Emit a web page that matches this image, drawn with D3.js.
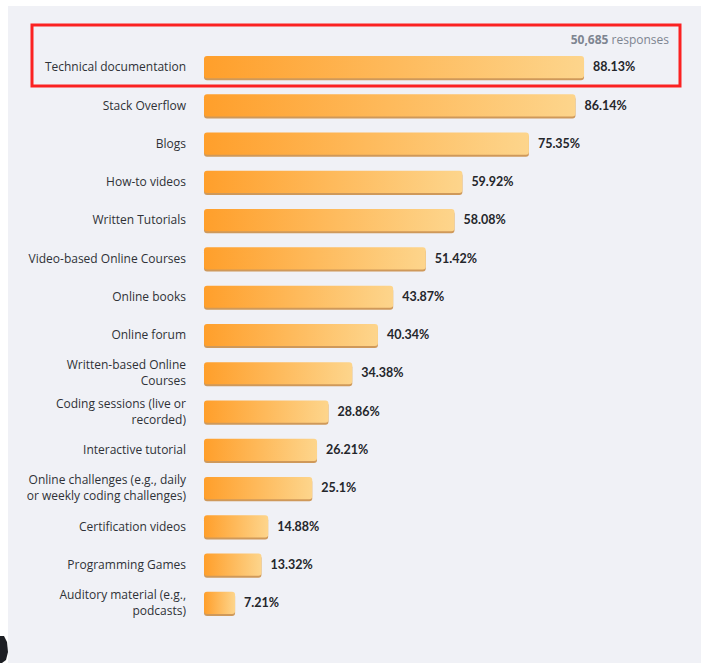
<!DOCTYPE html>
<html>
<head>
<meta charset="utf-8">
<script src="https://cdn.jsdelivr.net/npm/d3@7"></script>
<style>
  html, body { margin: 0; padding: 0; background: #fff; }
  svg { display: block; }
</style>
</head>
<body>
<svg id="chart" width="702" height="663"></svg>
<script>
'use strict';

// ── Data ────────────────────────────────────────────────────────────────────
const categories = [
  ['Technical documentation'],
  ['Stack Overflow'],
  ['Blogs'],
  ['How-to videos'],
  ['Written Tutorials'],
  ['Video-based Online Courses'],
  ['Online books'],
  ['Online forum'],
  ['Written-based Online', 'Courses'],
  ['Coding sessions (live or', 'recorded)'],
  ['Interactive tutorial'],
  ['Online challenges (e.g., daily', 'or weekly coding challenges)'],
  ['Certification videos'],
  ['Programming Games'],
  ['Auditory material (e.g.,', 'podcasts)'],
];
const values = [88.13, 86.14, 75.35, 59.92, 58.08, 51.42, 43.87, 40.34,
                34.38, 28.86, 26.21, 25.1, 14.88, 13.32, 7.21];
const responses = '50,685';

// ── Layout ──────────────────────────────────────────────────────────────────
const svg = d3.select('#chart');
const W = 702, H = 663;

// panel background
svg.append('rect').attr('x', 8).attr('y', 6).attr('width', W - 9).attr('height', H - 6)
  .attr('fill', '#f0f1f6');

const x = d3.scaleLinear().domain([0, 100]).range([204, 204 + 431.2]);
const y = d3.scaleBand()
  .domain(d3.range(values.length))
  .range([48, 622])
  .paddingInner(0.42)
  .paddingOuter(0.21);

const defs = svg.append('defs');
const grad = defs.append('linearGradient').attr('id', 'barGrad')
  .attr('x1', '0%').attr('x2', '100%').attr('y1', '0%').attr('y2', '0%');
grad.append('stop').attr('offset', '0%').attr('stop-color', '#ff9f2b');
grad.append('stop').attr('offset', '100%').attr('stop-color', '#fdd58c');

const rows = svg.append('g').selectAll('g')
  .data(values)
  .join('g')
  .attr('transform', (d, i) => `translate(0,${y(i)})`);

const bh = y.bandwidth();

// shadow under each bar
rows.append('rect')
  .attr('x', x(0))
  .attr('y', 2)
  .attr('width', d => x(d) - x(0))
  .attr('height', bh)
  .attr('rx', 3)
  .attr('fill', '#c98a3e')
  .attr('opacity', 0.85);

rows.append('rect')
  .attr('x', x(0))
  .attr('y', 0)
  .attr('width', d => x(d) - x(0))
  .attr('height', bh)
  .attr('rx', 3)
  .attr('fill', 'url(#barGrad)');

// value labels
rows.append('text')
  .attr('x', d => x(d) + 9)
  .attr('y', bh / 2 + 1)
  .attr('dominant-baseline', 'middle')
  .attr('font-family', 'Lato, "Noto Sans", sans-serif')
  .attr('font-weight', 700)
  .attr('font-size', '12.5px')
  .attr('fill', '#24262b')
  .text(d => d + '%');

// category labels
rows.each(function (d, i) {
  const lines = categories[i];
  const t = d3.select(this).append('text')
    .attr('x', 186)
    .attr('text-anchor', 'end')
    .attr('font-family', '"Open Sans", "Noto Sans", sans-serif')
    .attr('font-size', '12px')
    .attr('fill', '#2f3137');
  const lh = 16;
  const y0 = bh / 2 + 1 - (lines.length - 1) * lh / 2;
  lines.forEach((ln, k) => {
    t.append('tspan').attr('x', 186).attr('y', y0 + k * lh)
      .attr('dominant-baseline', 'middle').text(ln);
  });
});

// responses note
const note = svg.append('text')
  .attr('x', 669).attr('y', 44)
  .attr('text-anchor', 'end')
  .attr('font-family', '"Open Sans", "Noto Sans", sans-serif')
  .attr('font-size', '12px')
  .attr('fill', '#7e8591');
note.append('tspan').attr('font-weight', 700).text(responses);
note.append('tspan').text(' responses');

// red highlight box
svg.append('rect')
  .attr('x', 32).attr('y', 25).attr('width', 648).attr('height', 61)
  .attr('fill', 'none')
  .attr('stroke', '#fb2222')
  .attr('stroke-width', 3);

// dark blob at the lower-left edge
svg.append('path')
  .attr('d', 'M0,636 L4,636 L7,642 L8,652 L6,660 L2,663 L0,663 Z')
  .attr('fill', '#1d1f24');
</script>
</body>
</html>
